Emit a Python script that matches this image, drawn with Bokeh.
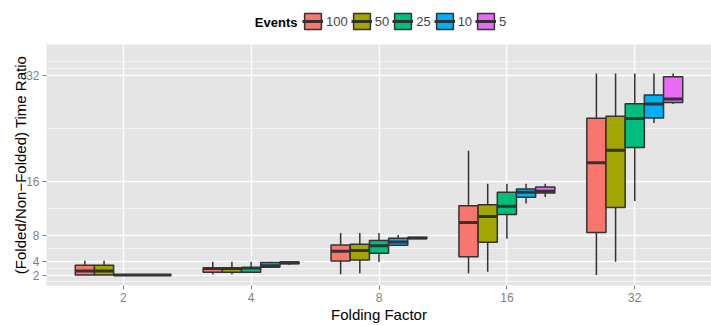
from bokeh.plotting import figure
from bokeh.layouts import column
from bokeh.models import (ColumnDataSource, FactorRange, Range1d, FixedTicker,
                          Legend, LegendItem, Label)
from bokeh.transform import dodge
from bokeh.embed import file_html
from bokeh.resources import INLINE

folding_factors = ["2", "4", "8", "16", "32"]
event_levels = ["100", "50", "25", "10", "5"]
event_colors = ["#F8766D", "#A3A500", "#00BF7D", "#00B0F6", "#E76BF3"]

# Box statistics of the time ratio: one row per event level,
# one column per folding factor (2, 4, 8, 16, 32)
whisker_low = [
    [2.00, 2.12, 2.12, 2.27, 2.03],
    [2.00, 2.12, 2.27, 2.52, 4.00],
    [2.00, 2.40, 3.96, 7.46, 13.10],
    [2.00, 3.15, 6.40, 12.74, 24.84],
    [2.00, 3.50, 7.48, 13.73, 27.66],
]
hinge_low = [
    [2.03, 2.44, 4.10, 4.74, 8.40],
    [2.03, 2.44, 4.25, 6.92, 12.15],
    [2.00, 2.44, 5.29, 11.11, 21.14],
    [2.00, 3.19, 6.47, 13.67, 25.58],
    [2.00, 3.70, 7.48, 14.32, 27.90],
]
median = [
    [2.62, 3.00, 5.58, 9.88, 18.86],
    [2.62, 3.00, 5.68, 10.81, 20.74],
    [2.03, 3.05, 6.42, 12.34, 25.48],
    [2.03, 3.41, 6.95, 14.42, 27.66],
    [2.03, 3.85, 7.56, 14.60, 28.44],
]
hinge_high = [
    [3.48, 3.11, 6.52, 12.40, 25.53],
    [3.48, 3.11, 6.62, 12.55, 25.82],
    [2.06, 3.11, 7.21, 14.42, 27.70],
    [2.06, 3.89, 7.52, 14.92, 29.04],
    [2.06, 3.95, 7.64, 15.21, 31.75],
]
whisker_high = [
    [4.15, 4.00, 8.30, 20.64, 32.25],
    [4.15, 4.00, 8.30, 15.70, 32.25],
    [2.06, 4.00, 8.30, 15.70, 32.25],
    [2.06, 4.00, 8.00, 15.70, 32.25],
    [2.06, 4.00, 7.64, 15.70, 32.25],
]

y_ticks = [2, 4, 8, 16, 32]
y_minor = [1, 3, 6, 12, 24, 33, 34]
y_lo, y_hi = 0.44, 36.6

FONT = "Liberation Sans"
OUTLINE = "#333333"
W, HEADER_H, MAIN_H = 711, 44, 281

p = figure(
    width=W, height=MAIN_H,
    x_range=FactorRange(factors=folding_factors, range_padding=0.1,
                        range_padding_units="absolute"),
    y_range=Range1d(y_lo, y_hi),
    output_backend="svg", toolbar_location=None,
    min_border_left=46, min_border_right=0, min_border_top=0, min_border_bottom=0,
    background_fill_color="#E5E5E5", border_fill_color="white",
    outline_line_color=None,
)

box_w = 0.15
offsets = [-0.3, -0.15, 0.0, 0.15, 0.3]
for j, level in enumerate(event_levels):
    src = ColumnDataSource(dict(
        factor=folding_factors,
        lo=whisker_low[j], q1=hinge_low[j], med=median[j],
        q3=hinge_high[j], hi=whisker_high[j],
    ))
    off = offsets[j]
    xc = dodge("factor", off, range=p.x_range)
    p.segment(x0=xc, y0="lo", x1=xc, y1="hi", source=src,
              line_color=OUTLINE, line_width=1.5)
    p.vbar(x=xc, width=box_w, bottom="q1", top="q3", source=src,
           fill_color=event_colors[j], line_color=OUTLINE, line_width=1.5)
    p.segment(x0=dodge("factor", off - box_w / 2, range=p.x_range), y0="med",
              x1=dodge("factor", off + box_w / 2, range=p.x_range), y1="med",
              source=src, line_color=OUTLINE, line_width=3)

# y axis with fixed breaks and in-between minor grid lines
yt = FixedTicker(ticks=y_ticks, minor_ticks=y_minor)
p.yaxis.ticker = yt
p.ygrid.ticker = yt
p.ygrid.grid_line_color = "white"
p.ygrid.grid_line_width = 1.5
p.ygrid.minor_grid_line_color = "#F4F4F4"
p.ygrid.minor_grid_line_width = 1
p.xgrid.grid_line_color = "white"
p.xgrid.grid_line_width = 1.5

for ax in (p.xaxis, p.yaxis):
    ax.axis_line_color = None
    ax.major_tick_in = 0
    ax.major_tick_out = 4
    ax.major_tick_line_color = "#7F7F7F"
    ax.minor_tick_line_color = None
    ax.major_label_text_color = "#7F7F7F"
    ax.major_label_text_font = FONT
    ax.major_label_text_font_size = "12px"
    ax.axis_label_text_font = FONT
    ax.axis_label_text_font_size = "15px"
    ax.axis_label_text_font_style = "normal"
    ax.axis_label_text_color = "black"

p.xaxis.axis_label = "Folding Factor"
p.xaxis.major_label_standoff = 3
p.xaxis.axis_label_standoff = 1
p.yaxis.axis_label = "(Folded/Non\u2212Folded) Time Ratio"
p.yaxis.major_label_standoff = 3
p.yaxis.axis_label_standoff = -6

# Header strip holding the "Events" legend (keys styled like the boxes)
h = figure(
    width=W, height=HEADER_H, x_range=Range1d(0, W), y_range=Range1d(0, HEADER_H),
    output_backend="svg", toolbar_location=None,
    min_border=0, outline_line_color=None, background_fill_color="white",
)
h.axis.visible = False
h.grid.visible = False

# legend-only renderers: their single anchor lies left of the header's
# x range, so only the legend keys are painted
items = []
for j, level in enumerate(event_levels):
    key_src = ColumnDataSource(dict(x=[-W], y=[0]))
    key_box = h.vbar(x="x", top="y", width=1, source=key_src,
                     fill_color=event_colors[j], line_color=OUTLINE, line_width=1.5)
    key_med = h.segment(x0="x", y0="y", x1="x", y1="y", source=key_src,
                        line_color=OUTLINE, line_width=3)
    items.append(LegendItem(label=level, renderers=[key_box, key_med]))

legend = Legend(items=items, orientation="horizontal", location=(256, 13))
legend.label_text_font = FONT
legend.label_text_font_size = "13px"
legend.label_standoff = 3
legend.label_width = 1
legend.glyph_width = 21
legend.glyph_height = 20
legend.spacing = 3
legend.padding = 4
legend.margin = 0
legend.border_line_color = None
legend.background_fill_alpha = 0
h.add_layout(legend)

h.add_layout(Label(
    x=251, x_units="screen", y=22, y_units="screen", text="Events",
    text_align="right", text_baseline="middle", text_font=FONT,
    text_font_size="13px", text_font_style="bold", text_color="black",
))

page = column(h, p, spacing=0)
open("out.html", "w").write(file_html(page, INLINE))
